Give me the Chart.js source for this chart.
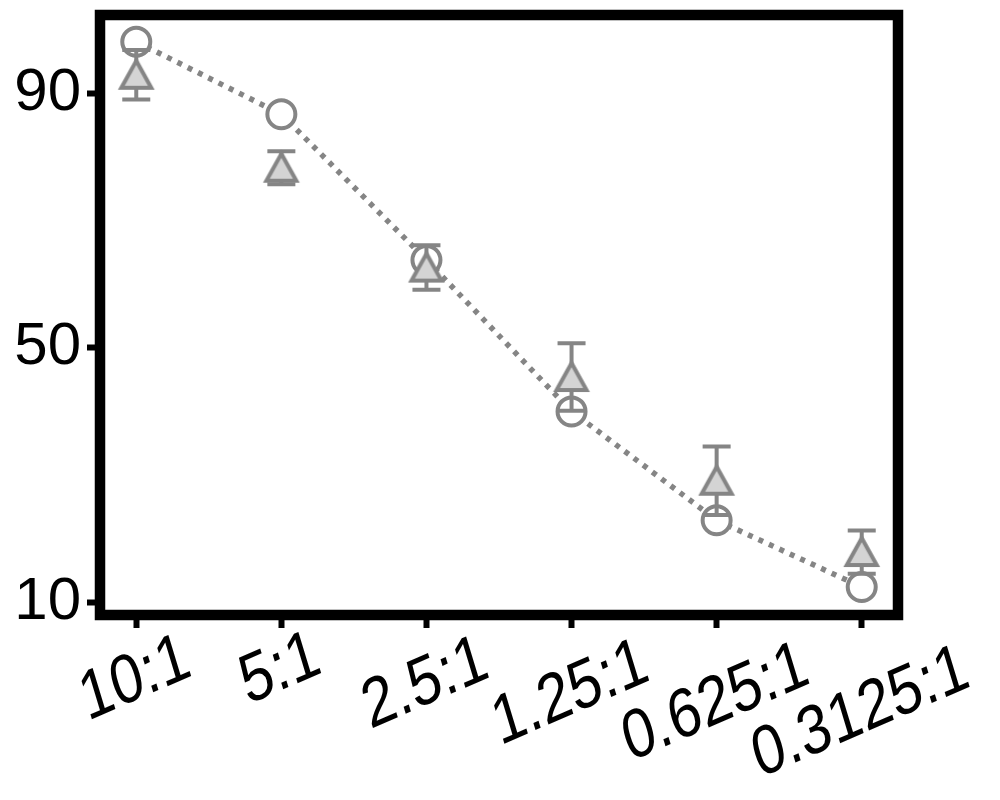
<!DOCTYPE html>
<html>
<head>
<meta charset="utf-8">
<script src="https://cdn.jsdelivr.net/npm/chart.js@4"></script>
<style>
  body { margin: 0; background: #fff; }
</style>
</head>
<body>
<canvas id="chart" width="1000" height="800"></canvas>
<script>
// data
var categories = ["10:1", "5:1", "2.5:1", "1.25:1", "0.625:1", "0.3125:1"];
var circleValues = [98.1, 86.7, 63.8, 40.0, 22.9, 12.4];
var triangleValues = [92.9, 78.3, 62.6, 45.4, 29.1, 17.9];
var triangleErrors = [3.9, 2.6, 3.5, 5.3, 5.4, 3.4];
var yTicks = [10, 50, 90];

var gray = "#858585";
var lightGray = "#d4d4d4";
var fontName = "'Liberation Sans', Arial, sans-serif";

// triangle marker centred on its bounding box (like the original)
function makeTriangle() {
    var c = document.createElement("canvas");
    c.width = 44; c.height = 44;
    var g = c.getContext("2d");
    g.beginPath();
    g.moveTo(22, 8);
    g.lineTo(37, 35);
    g.lineTo(7, 35);
    g.closePath();
    g.fillStyle = lightGray;
    g.fill();
    g.lineWidth = 4;
    g.strokeStyle = gray;
    g.stroke();
    return c;
}

function toPoints(values) {
    return values.map(function (v, i) { return { x: i, y: v }; });
}

function noPadding(scale) {
    scale.paddingTop = 0;
    scale.paddingBottom = 0;
    scale.paddingLeft = 0;
    scale.paddingRight = 0;
}

// error bars, drawn after circles but below triangles
var errorBars = {
    id: "errorBars",
    beforeDatasetDraw: function (chart, args) {
        if (args.index !== 0) return;
        var ctx = chart.ctx, xs = chart.scales.x, ys = chart.scales.y;
        ctx.save();
        ctx.strokeStyle = gray;
        ctx.lineWidth = 4;
        for (var i = 0; i < triangleValues.length; i++) {
            var x = xs.getPixelForValue(i);
            var top = ys.getPixelForValue(triangleValues[i] + triangleErrors[i]);
            var bot = ys.getPixelForValue(triangleValues[i] - triangleErrors[i]);
            ctx.beginPath();
            ctx.moveTo(x, top); ctx.lineTo(x, bot);
            ctx.moveTo(x - 14, top); ctx.lineTo(x + 14, top);
            ctx.moveTo(x - 14, bot); ctx.lineTo(x + 14, bot);
            ctx.stroke();
        }
        ctx.restore();
    }
};

// thick frame and slanted category labels
var frameAndLabels = {
    id: "frameAndLabels",
    afterDraw: function (chart) {
        var ctx = chart.ctx, a = chart.chartArea, xs = chart.scales.x;
        ctx.save();
        ctx.strokeStyle = "#000";
        ctx.lineWidth = 10.5;
        ctx.strokeRect(a.left, a.top, a.right - a.left, a.bottom - a.top);

        ctx.fillStyle = "#000";
        ctx.font = "58px " + fontName;
        ctx.textAlign = "center";
        ctx.textBaseline = "middle";
        for (var i = 0; i < categories.length; i++) {
            var x = xs.getPixelForValue(i);
            var w = ctx.measureText(categories[i]).width;
            var cy = a.bottom + 31 + 0.3 * w;
            ctx.save();
            ctx.translate(x - 1, cy);
            ctx.scale(1, 1.2);
            ctx.rotate(-20 * Math.PI / 180);
            ctx.fillText(categories[i], 0, 0);
            ctx.restore();
        }
        ctx.restore();
    }
};

var config = {
    type: "line",
    data: {
        datasets: [{
            label: "triangles",
            data: toPoints(triangleValues),
            showLine: false,
            pointStyle: makeTriangle(),
            pointRadius: 18
        }, {
            label: "circles",
            data: toPoints(circleValues),
            borderColor: gray,
            borderWidth: 5.5,
            borderDash: [5, 6.5],
            borderCapStyle: "butt",
            pointStyle: "circle",
            pointRadius: 14,
            pointBorderWidth: 4,
            pointBorderColor: gray,
            pointBackgroundColor: "#fff"
        }]
    },
    options: {
        responsive: false,
        animation: false,
        layout: { autoPadding: false, padding: { top: 15, right: 102, left: 0, bottom: 0 } },
        plugins: { legend: { display: false }, tooltip: { enabled: false } },
        scales: {
            x: {
                type: "linear",
                min: -0.25,
                max: 5.25,
                afterBuildTicks: function (scale) {
                    scale.ticks = categories.map(function (c, i) { return { value: i }; });
                },
                afterFit: function (scale) { scale.height = 185; noPadding(scale); },
                border: { display: false },
                grid: { drawOnChartArea: false, drawTicks: true, tickLength: 13, tickWidth: 6, tickColor: "#000" },
                ticks: { autoSkip: false, maxRotation: 0, callback: function () { return ""; } }
            },
            y: {
                min: 8,
                max: 102.3,
                afterBuildTicks: function (scale) {
                    scale.ticks = yTicks.map(function (v) { return { value: v }; });
                },
                afterFit: function (scale) { scale.width = 100; noPadding(scale); },
                border: { display: false },
                grid: { drawOnChartArea: false, drawTicks: true, tickLength: 13, tickWidth: 6, tickColor: "#000" },
                ticks: { color: "#000", padding: 6, font: { size: 60, family: fontName } }
            }
        }
    },
    plugins: [errorBars, frameAndLabels]
};

var chart = new Chart(document.getElementById("chart"), config);
</script>
</body>
</html>
